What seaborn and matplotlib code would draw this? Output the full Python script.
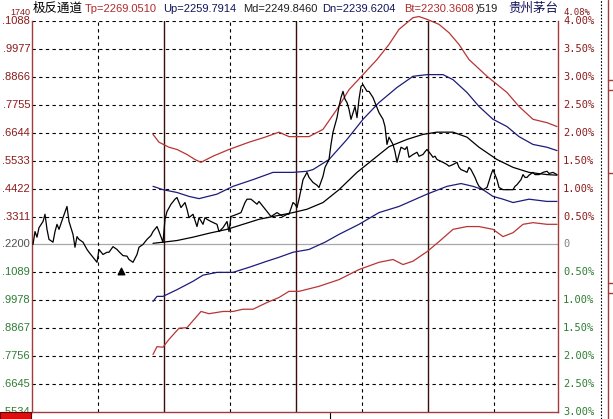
#!/usr/bin/env python3
# Channel chart (极反通道) for 贵州茅台, redrawn from a screenshot
# Values are read off the picture: x = bar index, y = % from the channel base

import matplotlib
matplotlib.use("Agg")
import matplotlib.pyplot as plt
from matplotlib.lines import Line2D
from matplotlib.patches import Rectangle
import seaborn as sns

# ---- data ----
price_x = [0, 1, 2, 3, 5, 6, 7, 8, 10, 11, 12, 13, 15, 17, 18, 20, 21, 22, 23, 25,
           27, 28, 30, 32, 33, 35, 37, 38, 40, 42, 43, 45, 47, 48, 50, 52, 53, 55, 57, 59,
           60, 62, 63, 65, 66, 67, 69, 71, 72, 74, 76, 77, 78, 80, 82, 83, 85, 86, 87, 89,
           92, 93, 95, 97, 98, 99, 102, 104, 106, 107, 109, 112, 113, 115, 117, 119, 122, 125, 127, 128,
           130, 131, 132, 133, 134, 135, 137, 138, 140, 142, 143, 145, 146, 148, 149, 150, 152, 153, 154, 155,
           156, 157, 158, 159, 161, 162, 163, 164, 165, 167, 168, 170, 171, 172, 173, 175, 176, 177, 178, 180,
           181, 182, 183, 184, 186, 187, 188, 190, 192, 193, 195, 196, 197, 199, 200, 201, 202, 205, 207, 208,
           210, 212, 213, 214, 216, 217, 218, 219, 221, 222, 223, 225, 227, 228, 229, 230, 231, 232, 233, 235,
           237, 240, 241, 242, 244, 245, 246, 247, 248, 250, 251, 253, 255, 257, 258, 260, 261, 262]
price_y = [0.00, 0.23, 0.13, 0.30, 0.41, 0.54, 0.27, 0.09, 0.04, 0.23, 0.36, 0.27, 0.48, 0.68, 0.41, 0.18, -0.05, 0.14, 0.09, 0.04,
           -0.09, -0.14, -0.23, -0.32, -0.09, -0.18, -0.14, -0.14, -0.04, -0.09, -0.13, -0.20, -0.21, -0.27, -0.32, -0.18, -0.05, 0.00, 0.09, 0.16,
           0.23, 0.32, 0.23, 0.04, 0.45, 0.59, 0.72, 0.81, 0.84, 0.66, 0.75, 0.63, 0.48, 0.54, 0.32, 0.48, 0.36, 0.48, 0.45, 0.41,
           0.36, 0.23, 0.30, 0.41, 0.23, 0.50, 0.54, 0.57, 0.75, 0.81, 0.81, 0.72, 0.77, 0.68, 0.59, 0.50, 0.57, 0.50, 0.54, 0.54,
           0.75, 0.72, 0.66, 0.81, 0.98, 1.16, 1.29, 1.20, 1.11, 1.06, 1.02, 1.22, 1.38, 1.52, 1.79, 2.01, 2.27, 2.47, 2.63, 2.74,
           2.60, 2.54, 2.42, 2.24, 2.47, 2.27, 2.60, 2.83, 2.86, 2.74, 2.74, 2.63, 2.54, 2.45, 2.36, 2.24, 2.11, 1.79, 1.92, 1.79,
           1.66, 1.47, 1.61, 1.74, 1.70, 1.75, 1.56, 1.61, 1.65, 1.58, 1.61, 1.66, 1.70, 1.61, 1.56, 1.58, 1.52, 1.47, 1.43, 1.40,
           1.43, 1.47, 1.38, 1.34, 1.31, 1.29, 1.38, 1.34, 1.20, 1.11, 1.04, 0.98, 1.02, 1.13, 1.25, 1.34, 1.25, 1.16, 1.02, 0.98,
           0.98, 0.98, 1.04, 1.07, 1.16, 1.25, 1.20, 1.20, 1.24, 1.29, 1.25, 1.25, 1.29, 1.31, 1.27, 1.29, 1.27, 1.25]

md_x = [60, 65, 72, 80, 88, 97, 105, 113, 120, 130, 137, 145, 153, 162, 170, 178, 187, 195, 202, 210,
        217, 223, 232, 240, 248, 257, 262]
md_y = [0.02, 0.04, 0.07, 0.13, 0.20, 0.27, 0.36, 0.45, 0.50, 0.57, 0.63, 0.75, 0.98, 1.29, 1.52, 1.75, 1.88, 1.97, 2.01, 2.01,
        1.92, 1.74, 1.52, 1.38, 1.29, 1.25, 1.24]

up_x = [60, 65, 72, 78, 83, 92, 100, 110, 120, 130, 137, 140, 148, 157, 165, 173, 182, 190, 197, 205,
        210, 217, 223, 230, 237, 243, 250, 257, 262]
up_y = [1.04, 0.98, 0.93, 0.86, 0.82, 0.90, 1.04, 1.16, 1.29, 1.29, 1.31, 1.34, 1.52, 1.88, 2.24, 2.54, 2.81, 3.01, 3.04, 3.04,
        2.95, 2.72, 2.47, 2.24, 2.11, 1.93, 1.79, 1.74, 1.68]

dn_x = [60, 62, 65, 72, 80, 85, 92, 100, 108, 117, 123, 130, 138, 146, 153, 163, 173, 183, 197, 207,
        214, 220, 225, 230, 235, 240, 248, 257, 262]
dn_y = [-1.02, -0.93, -0.93, -0.81, -0.66, -0.55, -0.50, -0.50, -0.41, -0.30, -0.23, -0.14, -0.09, 0.04, 0.18, 0.36, 0.57, 0.68, 0.90, 1.04,
        1.09, 1.04, 0.98, 0.86, 0.81, 0.75, 0.81, 0.77, 0.77]

tp_x = [60, 63, 68, 72, 77, 81, 84, 90, 98, 108, 116, 123, 128, 138, 145, 152, 158, 165, 172, 178,
        183, 187, 190, 193, 197, 203, 208, 213, 218, 227, 237, 243, 250, 257, 262]
tp_y = [1.97, 1.83, 1.74, 1.70, 1.61, 1.52, 1.47, 1.58, 1.70, 1.83, 1.92, 2.01, 1.93, 1.93, 2.06, 2.42, 2.77, 3.04, 3.31, 3.58,
        3.85, 3.97, 4.06, 4.08, 4.03, 3.94, 3.79, 3.58, 3.31, 3.01, 2.72, 2.47, 2.24, 2.18, 2.11]

bt_x = [60, 62, 65, 68, 73, 77, 84, 88, 95, 100, 105, 110, 117, 123, 128, 133, 143, 153, 163, 173,
        180, 185, 190, 197, 203, 210, 217, 223, 230, 235, 240, 245, 250, 257, 262]
bt_y = [-1.97, -1.83, -1.84, -1.70, -1.50, -1.49, -1.20, -1.24, -1.20, -1.20, -1.16, -1.16, -1.04, -0.95, -0.84, -0.84, -0.75, -0.63, -0.45, -0.32,
        -0.27, -0.36, -0.30, -0.13, 0.05, 0.27, 0.32, 0.32, 0.27, 0.14, 0.21, 0.36, 0.39, 0.36, 0.36]

# signal marker
mark_x = [44]
mark_y = [-0.48]

# axis levels and labels
levels = [4.0, 3.5, 3.0, 2.5, 2.0, 1.5, 1.0, 0.5, 0.0, -0.5, -1.0, -1.5, -2.0, -2.5, -3.0]
left_labels = [".1088", ".9977", ".8866", ".7755", ".6644", ".5533", ".4422", ".3311",
               ".2200", ".1089", ".9978", ".8867", ".7756", ".6645", ".5534"]
right_labels = ["4.00%", "3.50%", "3.00%", "2.50%", "2.00%", "1.50%", "1.00%", "0.50%",
                "0", "0.50%", "1.00%", "1.50%", "2.00%", "2.50%", "3.00%"]

title_parts = [
    ("极反通道", "black", 33),
    ("Tp=2269.0510", "#b22a2a", 85),
    ("Up=2259.7914", "#14145a", 163),
    ("Md=2249.8460", "#202020", 243),
    ("Dn=2239.6204", "#14145a", 322),
    ("Bt=2230.3608", "#b22a2a", 404),
    (")519", "#202020", 476),
    ("贵州茅台", "#14145a", 508),
]

# ---- styling ----
W, H = 613, 419
RED = "#b83535"
BORDER = "#a03c3c"
NAVY = "#1c1c7a"
UP_COL = "#8b1a1a"
DOWN_COL = "#2e7d32"

sns.set_theme(style="white")
plt.rcParams["font.family"] = ["Liberation Sans", "Noto Sans CJK SC", "DejaVu Sans"]

fig = plt.figure(figsize=(W / 100, H / 100), dpi=100)
fig.patch.set_facecolor("white")
ax = fig.add_axes([32 / W, 7 / H, 526 / W, 391 / H])
ax.set_xlim(-0.5, 262.5)
ax.set_ylim(-3.0, 4.0)
ax.set_xticks([])
ax.set_yticks([])
for side in ["left", "right", "bottom"]:
    ax.spines[side].set_color(BORDER)
    ax.spines[side].set_linewidth(1.0)
ax.spines["top"].set_visible(False)

# grid
dash = (0, (3, 3))
for lv in levels[:-1]:
    if lv == 0:
        ax.axhline(lv, color="#a8a8a8", lw=0.9, zorder=1)
    else:
        ax.axhline(lv, color="black", lw=0.8, ls=dash, zorder=1)
vgrid = [32.5, 65.5, 98.5, 131.5, 164.5, 197.5, 230.5]
for i, xv in enumerate(vgrid):
    if i % 2 == 0:
        ax.axvline(xv, color="black", lw=0.8, ls=dash, zorder=1)
    else:
        ax.axvline(xv, color="#3a0c0c", lw=1.0, zorder=1)

# series
common = dict(ax=ax, estimator=None, sort=False, linewidth=0.9, clip_on=False, zorder=3)
sns.lineplot(x=tp_x, y=tp_y, color=RED, **common)
sns.lineplot(x=bt_x, y=bt_y, color=RED, **common)
sns.lineplot(x=up_x, y=up_y, color=NAVY, **common)
sns.lineplot(x=dn_x, y=dn_y, color=NAVY, **common)
sns.lineplot(x=md_x, y=md_y, color="black", **common)
sns.lineplot(x=price_x, y=price_y, color="black", **common)
ax.scatter(mark_x, mark_y, marker="^", s=22, color="black", zorder=4)

# tick labels
ytrans = ax.get_yaxis_transform()
for lv, lt, rt in zip(levels, left_labels, right_labels):
    if lv > 0:
        col = UP_COL
    elif lv == 0:
        col = "#505050"
    else:
        col = DOWN_COL
    ax.text(-2 / 526, lv, lt, transform=ytrans, ha="right", va="center",
            fontsize=8, color=col)
    ax.text(1 + 5 / 526, lv, rt, transform=ytrans, ha="left", va="center",
            fontsize=7.5, color=col if lv != 0 else "#808080", family="DejaVu Sans Mono")
# the screenshot shows a second, half-hidden label above each top label
ax.text(-2 / 526, 4.0 + 0.16, "1740", transform=ytrans, ha="right", va="center",
        fontsize=6.5, color=UP_COL)
ax.text(1 + 5 / 526, 4.0 + 0.16, "4.08%", transform=ytrans, ha="left", va="center",
        fontsize=6.5, color=UP_COL, family="DejaVu Sans Mono")

# title row
for txt, col, px in title_parts:
    size = 9 if any(ord(c) > 0x2000 for c in txt) else 8
    fig.text(px / W, 1 - 9 / H, txt, color=col, fontsize=size, ha="left", va="center")

# right-hand strip and bottom bits
fig.add_artist(Line2D([601 / W, 601 / W], [0, 1], transform=fig.transFigure,
                      color="black", lw=0.8, ls=(0, (1.5, 1.5))))
fig.add_artist(Line2D([608 / W, 608 / W], [0, 1], transform=fig.transFigure,
                      color=BORDER, lw=1.0))
for yp in [80, 90, 173, 283, 293]:
    fig.add_artist(Line2D([608 / W, 613 / W], [1 - yp / H, 1 - yp / H],
                          transform=fig.transFigure, color=BORDER, lw=1.0))
fig.add_artist(Rectangle((0, 0), 31 / W, 7 / H, transform=fig.transFigure,
                         facecolor="#e01010", edgecolor="#600000", lw=0.8))
fig.add_artist(Line2D([330 / W, 330 / W], [0, 6 / H], transform=fig.transFigure,
                      color="black", lw=0.8))

fig.savefig("out.png", dpi=100, facecolor="white")
plt.close(fig)
print("saved out.png")
